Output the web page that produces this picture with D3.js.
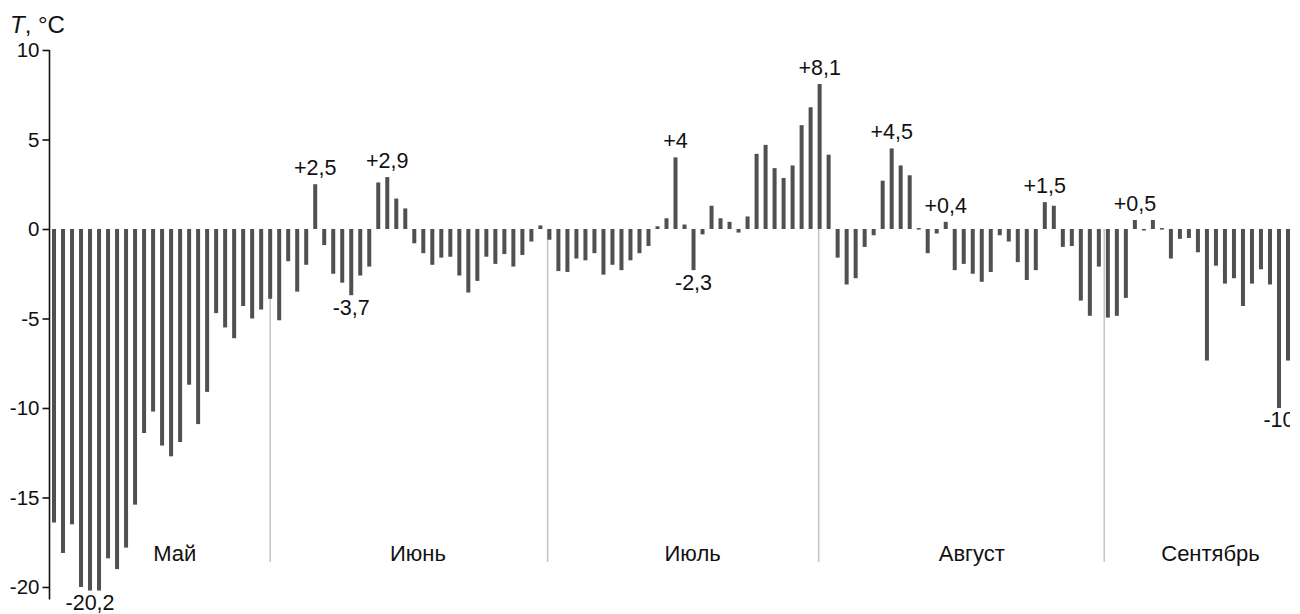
<!DOCTYPE html>
<html>
<head>
<meta charset="utf-8">
<script src="https://cdn.jsdelivr.net/npm/d3@7"></script>
<style>
  body { margin: 0; background: #fff; }
  svg { display: block; font-family: "Liberation Sans", Arial, sans-serif; }
</style>
</head>
<body>
<svg id="chart" width="1300" height="614"></svg>
<script>
// daily temperature anomaly, 8 May .. 22 Sep
const mayT = [-16.4, -18.1, -16.5, -20.0, -20.2, -20.2, -18.4, -19.0, -17.8, -15.4,
  -11.4, -10.2, -12.1, -12.7, -11.9, -8.7, -10.9, -9.1, -4.7, -5.5,
  -6.1, -4.3, -5.0, -4.5];
const junT = [-3.9, -5.1, -1.8, -3.5, -2.0, 2.5, -0.9, -2.5, -3.0, -3.7,
  -2.6, -2.1, 2.6, 2.9, 1.7, 1.15, -0.8, -1.35, -2.0, -1.6,
  -1.55, -2.6, -3.55, -2.9, -1.55, -1.95, -1.4, -2.1, -1.45, -0.7];
const julT = [0.2, -0.6, -2.35, -2.4, -1.65, -1.75, -1.35, -2.55, -2.0, -2.3,
  -1.75, -1.35, -0.95, 0.15, 0.6, 4.0, 0.25, -2.3, -0.3, 1.3,
  0.6, 0.4, -0.2, 0.7, 4.2, 4.7, 3.4, 2.85, 3.55, 5.8, 6.8];
const augT = [8.1, 4.15, -1.6, -3.1, -2.75, -1.0, -0.35, 2.7, 4.5, 3.55,
  3.0, 0.05, -1.35, -0.25, 0.4, -2.3, -1.95, -2.5, -2.95, -2.4,
  -0.35, -0.7, -1.85, -2.85, -2.3, 1.5, 1.3, -1.0, -0.95, -4.0, -4.85];
const sepT = [-2.1, -4.95, -4.85, -3.85, 0.5, -0.05, 0.5, 0.05, -1.65, -0.55,
  -0.5, -1.3, -7.35, -2.05, -3.05, -2.75, -4.3, -3.05, -2.25, -3.1,
  -10.0, -7.35];

const monthNames = ["Май", "Июнь", "Июль", "Август", "Сентябрь"];
// month boundaries as drawn in the figure, in day index units
const monthEdges = [24, 54.8, 84.9, 116.6];
const yTicks = [10, 5, 0, -5, -10, -15, -20];
// annotated days: index of the day and its caption
const labelDays = [4, 29, 33, 37, 69, 71, 85, 93, 99, 110, 120, 136];
const labelTexts = ["-20,2", "+2,5", "-3,7", "+2,9", "+4", "-2,3", "+8,1", "+4,5", "+0,4", "+1,5", "+0,5", "-10"];

const monthsData = [mayT, junT, julT, augT, sepT];
const values = monthsData.flat();

const svg = d3.select("#chart");

const x = d3.scaleLinear()
  .domain([0, values.length - 1])
  .range([54, 1288]);

const y = d3.scaleLinear()
  .domain([-20.7, 10])
  .range([599.5, 50]);

svg.append("defs").append("clipPath")
  .attr("id", "clip")
  .append("rect")
  .attr("x", 0).attr("y", 0)
  .attr("width", 1290).attr("height", 614);

const plot = svg.append("g").attr("clip-path", "url(#clip)");

// month separators
plot.append("g")
  .selectAll("line")
  .data(monthEdges)
  .join("line")
  .attr("x1", d => x(d))
  .attr("x2", d => x(d))
  .attr("y1", y(0))
  .attr("y2", y(-18.6))
  .attr("stroke", "#c4c4c4")
  .attr("stroke-width", 1.5);

// bars
plot.append("g")
  .selectAll("rect")
  .data(values)
  .join("rect")
  .attr("x", (d, i) => x(i) - 2)
  .attr("width", 4)
  .attr("y", d => y(Math.max(0, d)))
  .attr("height", d => Math.max(1.5, Math.abs(y(d) - y(0))))
  .attr("fill", "#505050");

// month captions
let start = 0;
const monthPos = monthsData.map(m => {
  const mid = start + (m.length - 1) / 2;
  start += m.length;
  return mid;
});
const stepPx = x(1) - x(0);
plot.append("g")
  .selectAll("text")
  .data(monthNames)
  .join("text")
  .attr("x", (d, i) => x(monthPos[i]) + stepPx * 1.9)
  .attr("y", 561)
  .attr("text-anchor", "middle")
  .attr("font-size", 22)
  .attr("fill", "#111")
  .text(d => d);

// value captions
plot.append("g")
  .selectAll("text")
  .data(labelDays)
  .join("text")
  .attr("x", d => x(d))
  .attr("y", d => values[d] >= 0 ? y(values[d]) - 9 : y(values[d]) + 19.5)
  .attr("text-anchor", "middle")
  .attr("font-size", 21.5)
  .attr("fill", "#111")
  .text((d, i) => labelTexts[i]);

// y axis
const yAxis = svg.append("g")
  .attr("transform", "translate(49.5,0)")
  .call(d3.axisLeft(y)
    .tickValues(yTicks)
    .tickFormat(d => String(d))
    .tickSize(7)
    .tickSizeOuter(0)
    .tickPadding(3));
yAxis.select(".domain")
  .attr("stroke", "#111")
  .attr("stroke-width", 1.6)
  .attr("d", `M0,${y(10)}V${y(-20.7)}`);
yAxis.selectAll(".tick line").attr("stroke", "#111").attr("stroke-width", 1.6);
yAxis.selectAll(".tick text")
  .attr("font-size", 20.5)
  .attr("font-family", "Liberation Sans, Arial, sans-serif")
  .attr("fill", "#111");

// axis title
const title = svg.append("text")
  .attr("x", 10)
  .attr("y", 33)
  .attr("font-size", 24)
  .attr("fill", "#111");
title.append("tspan").attr("font-style", "italic").text("T");
title.append("tspan").text(", °C");
</script>
</body>
</html>
